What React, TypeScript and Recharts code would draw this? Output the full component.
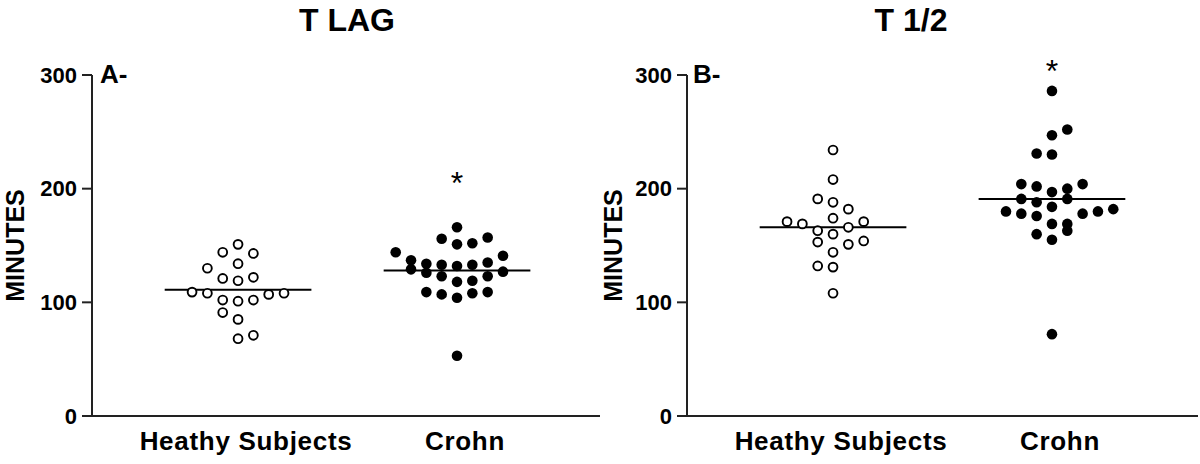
import { ScatterChart, Scatter, XAxis, YAxis, ReferenceLine, ReferenceDot } from 'recharts';

const groups = ['Heathy Subjects', 'Crohn'];
const yTicks = [0, 100, 200, 300];

// T LAG (panel A), minutes; *Col = column of the dot in the swarm
const lagHealthy = [151, 144, 143, 130, 134, 121, 119, 122, 109, 108, 107, 108, 102, 101, 102, 91, 85, 68, 71];
const lagHealthyCol = [0, -1, 1, -2, 0, -1, 0, 1, -3, -2, 2, 3, -1, 0, 1, -1, 0, 0, 1];
const lagCrohn = [166, 156, 157, 151, 152, 144, 141, 137, 135, 134, 133, 132, 133, 129, 126, 127, 123, 123, 118, 119, 109, 107, 104, 108, 109, 53];
const lagCrohnCol = [0, -1, 2, 0, 1, -4, 3, -3, 2, -2, -1, 0, 1, -3, -2, 3, -1, 2, 0, 1, -2, -1, 0, 1, 2, 0];
const lagMeans = [111, 128];

// T 1/2 (panel B)
const halfHealthy = [234, 208, 191, 188, 182, 174, 171, 169, 171, 166, 163, 160, 153, 151, 154, 144, 132, 131, 108];
const halfHealthyCol = [0, 0, -1, 0, 1, 0, -3, -2, 2, 1, -1, 0, -1, 1, 2, 0, -1, 0, 0];
const halfCrohn = [286, 252, 247, 231, 230, 204, 202, 204, 197, 200, 191, 191, 188, 180, 178, 176, 184, 178, 180, 182, 169, 169, 163, 160, 155, 72];
const halfCrohnCol = [0, 1, 0, -1, 0, -2, -1, 2, 0, 1, -2, 1, -1, -3, -2, -1, 0, 2, 3, 4, 0, 1, 1, -1, 0, 0];
const halfMeans = [166, 191];

const COL_STEP = 0.07;
const HALF_LINE = 0.335;
const FONT = '"Liberation Sans", Arial, Helvetica, sans-serif';
const AXIS = '#222';

const toPoints = (vals: number[], cols: number[], cat: number) =>
  vals.map((v, i) => ({ x: cat + cols[i] * COL_STEP, y: v }));

const OpenDot = (p: any) => <circle cx={p.cx} cy={p.cy} r={4.4} fill="#fff" stroke="#000" strokeWidth={1.9} />;
const FilledDot = (p: any) => <circle cx={p.cx} cy={p.cy} r={5.3} fill="#000" />;

type PanelProps = {
  healthy: number[];
  healthyCol: number[];
  crohn: number[];
  crohnCol: number[];
  means: number[];
  starY: number;
  axisWidth: number;
  xMax: number;
  labelOffset: number;
  marginRight: number;
};

function Panel(p: PanelProps) {
  return (
    <ScatterChart width={600} height={464} margin={{ top: 75, right: p.marginRight, bottom: 0, left: 0 }}>
      <XAxis
        type="number"
        dataKey="x"
        domain={[0.333, p.xMax]}
        ticks={[1, 2]}
        tickFormatter={(v: number) => groups[v - 1]}
        tickLine={false}
        tickSize={0}
        tickMargin={16}
        height={48}
        axisLine={{ stroke: AXIS, strokeWidth: 2 }}
        tick={{ fontFamily: FONT, fontSize: 26, fontWeight: 'bold', fill: '#000', letterSpacing: 0.7, dx: 8 }}
      />
      <YAxis
        type="number"
        dataKey="y"
        domain={[0, 300]}
        ticks={yTicks}
        width={p.axisWidth}
        tickSize={10}
        tickMargin={5}
        axisLine={{ stroke: AXIS, strokeWidth: 2 }}
        tickLine={{ stroke: AXIS, strokeWidth: 2 }}
        tick={{ fontFamily: FONT, fontSize: 22, fontWeight: 'bold', fill: '#000' }}
        label={{
          value: 'MINUTES',
          angle: -90,
          position: 'insideLeft',
          offset: p.labelOffset,
          style: { textAnchor: 'middle', fontFamily: FONT, fontSize: 25, fontWeight: 'bold', fill: '#000' },
        }}
      />
      {p.means.map((m, i) => (
        <ReferenceLine
          key={i}
          segment={[{ x: i + 1 - HALF_LINE, y: m }, { x: i + 1 + HALF_LINE, y: m }]}
          stroke="#000"
          strokeWidth={2}
        />
      ))}
      <Scatter data={toPoints(p.healthy, p.healthyCol, 1)} shape={OpenDot} isAnimationActive={false} />
      <Scatter data={toPoints(p.crohn, p.crohnCol, 2)} shape={FilledDot} isAnimationActive={false} />
      <ReferenceDot
        x={2}
        y={p.starY}
        r={0}
        ifOverflow="visible"
        stroke="none"
        label={{ value: '*', position: 'center', fontFamily: FONT, fontSize: 32, fill: '#000' }}
      />
    </ScatterChart>
  );
}

const textStyle = { position: 'absolute' as const, fontFamily: FONT, fontWeight: 'bold' as const, color: '#000', whiteSpace: 'nowrap' as const };

export default function App() {
  return (
    <div style={{ position: 'absolute', left: 0, top: 0, width: 1200, height: 464, background: '#fff', overflow: 'hidden' }}>
      <div style={{ display: 'flex' }}>
        <Panel
          healthy={lagHealthy}
          healthyCol={lagHealthyCol}
          crohn={lagCrohn}
          crohnCol={lagCrohnCol}
          means={lagMeans}
          starY={205}
          axisWidth={92}
          xMax={2.653}
          labelOffset={15}
          marginRight={0}
        />
        <Panel
          healthy={halfHealthy}
          healthyCol={halfHealthyCol}
          crohn={halfCrohn}
          crohnCol={halfCrohnCol}
          means={halfMeans}
          starY={304}
          axisWidth={87}
          xMax={2.667}
          labelOffset={13}
          marginRight={2}
        />
      </div>
      <div style={{ ...textStyle, left: 247, top: 4, width: 200, textAlign: 'center', fontSize: 32, lineHeight: '32px' }}>T LAG</div>
      <div style={{ ...textStyle, left: 811, top: 4, width: 200, textAlign: 'center', fontSize: 32, lineHeight: '32px' }}>T 1/2</div>
      <div style={{ ...textStyle, left: 100, top: 61, fontSize: 26, lineHeight: '26px' }}>A-</div>
      <div style={{ ...textStyle, left: 693, top: 61, fontSize: 26, lineHeight: '26px' }}>B-</div>
    </div>
  );
}
